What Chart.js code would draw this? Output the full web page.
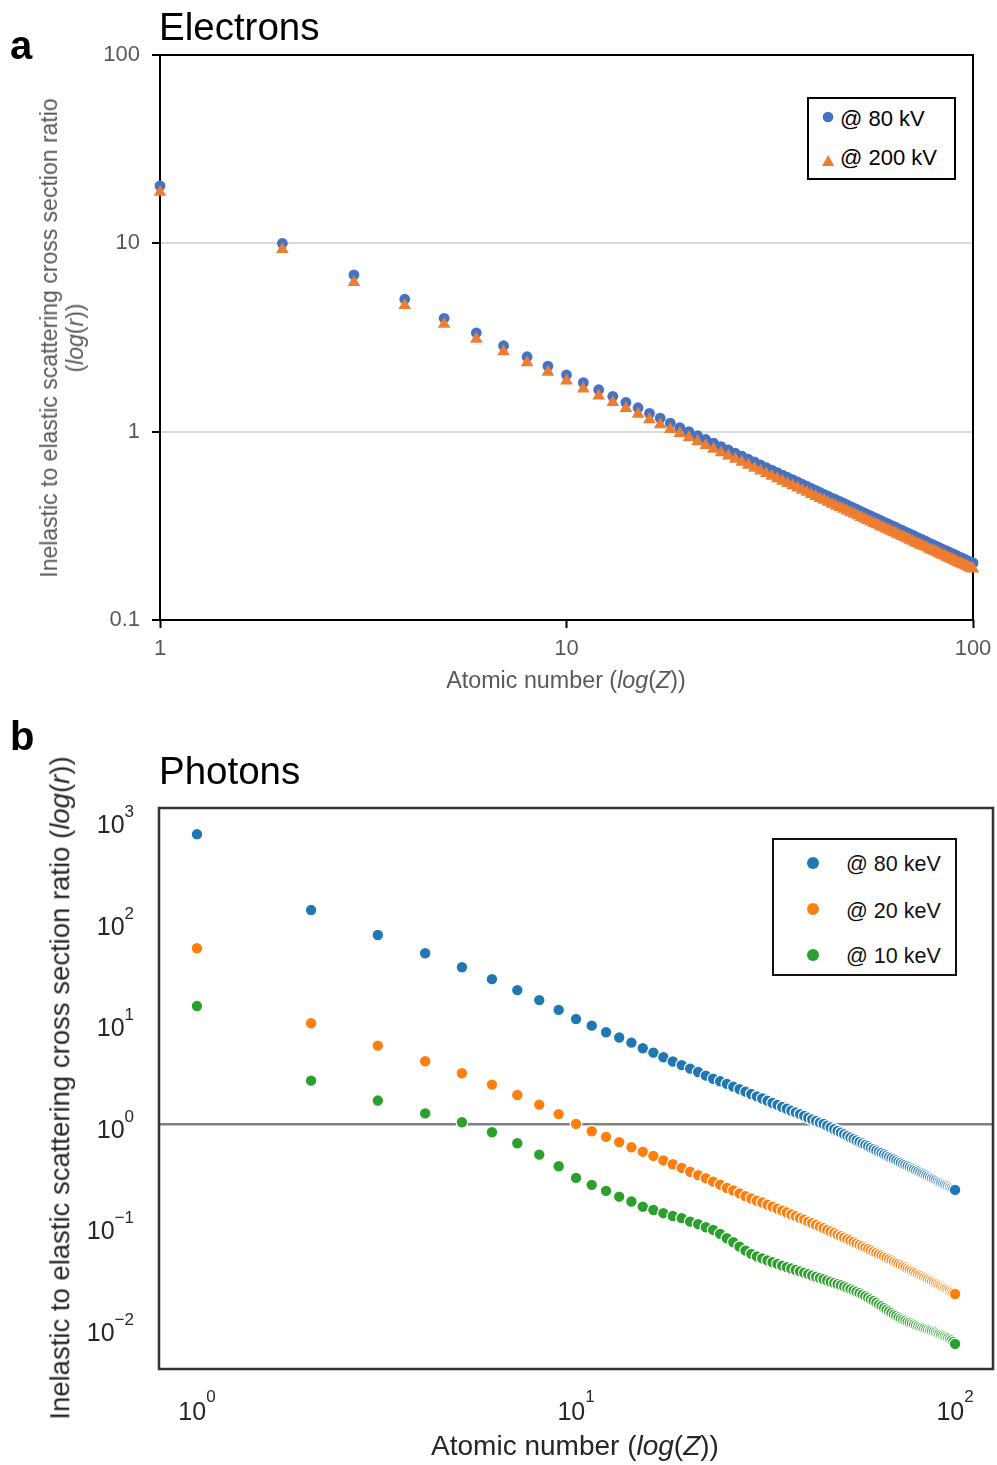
<!DOCTYPE html>
<html>
<head>
<meta charset="utf-8">
<title>Inelastic to elastic scattering cross section ratio</title>
<script src="https://cdn.jsdelivr.net/npm/chart.js@4.4.1/dist/chart.umd.min.js"></script>
<style>
  html, body { margin: 0; background: #fff; }
  #page { position: relative; width: 997px; height: 1465px; overflow: hidden; font-family: 'Liberation Sans', Arial, sans-serif; }
  #page canvas { position: absolute; left: 0; }
  .t { position: absolute; white-space: nowrap; line-height: 1; }
  .rot { transform: translate(-50%, -50%) rotate(-90deg); text-align: center; }
  .box { position: absolute; box-sizing: border-box; background: #fff; }
  svg.mk { position: absolute; overflow: visible; }
</style>
</head>
<body>
<div id="page">
  <canvas id="electrons" width="997" height="700" style="top:0"></canvas>
  <canvas id="photons" width="997" height="765" style="top:700px"></canvas>

  <!-- panel a -->
  <div class="t" style="left:10px;top:25px;font-size:40px;font-weight:bold">a</div>
  <div class="t" style="left:159px;top:8px;font-size:38.5px">Electrons</div>
  <div class="t rot" style="left:62px;top:338px;font-size:23px;line-height:26px;color:#595959">Inelastic to elastic scattering cross section ratio<br>(<i>log</i>(<i>r</i>))</div>
  <div class="t" style="left:566px;top:669px;font-size:23.3px;color:#595959;transform:translateX(-50%)">Atomic number (<i>log</i>(<i>Z</i>))</div>

  <div class="box" style="left:807px;top:97px;width:149px;height:83px;border:2px solid #000"></div>
  <svg class="mk" style="left:823px;top:112px" width="10" height="10"><circle cx="5" cy="5" r="5.3" fill="#4472C4"/></svg>
  <svg class="mk" style="left:822px;top:154.5px" width="12.3" height="11"><polygon points="6.15,0 12.3,11 0,11" fill="#ED7D31"/></svg>
  <div class="t" style="left:840px;top:108px;font-size:22px">@ 80 kV</div>
  <div class="t" style="left:840px;top:146.5px;font-size:22px">@ 200 kV</div>

  <!-- panel b -->
  <div class="t" style="left:10px;top:716px;font-size:40px;font-weight:bold">b</div>
  <div class="t" style="left:159px;top:752px;font-size:38.5px">Photons</div>
  <div class="t rot" style="left:60px;top:1088px;font-size:27.5px;color:#262626">Inelastic to elastic scattering cross section ratio (<i>log</i>(<i>r</i>))</div>
  <div class="t" style="left:575px;top:1432px;font-size:28px;color:#262626;transform:translateX(-50%)">Atomic number (<i>log</i>(<i>Z</i>))</div>

  <div class="box" style="left:772px;top:838px;width:185px;height:138px;border:2.5px solid #111"></div>
  <svg class="mk" style="left:806.7px;top:857.3px" width="12" height="12"><circle cx="6" cy="6" r="6" fill="#1f77b4"/></svg>
  <svg class="mk" style="left:806.7px;top:903.3px" width="12" height="12"><circle cx="6" cy="6" r="6" fill="#ff7f0e"/></svg>
  <svg class="mk" style="left:806.7px;top:949.3px" width="12" height="12"><circle cx="6" cy="6" r="6" fill="#2ca02c"/></svg>
  <div class="t" style="left:846px;top:854px;font-size:21.5px;color:#111">@ 80 keV</div>
  <div class="t" style="left:846px;top:900.5px;font-size:21.5px;color:#111">@ 20 keV</div>
  <div class="t" style="left:846px;top:945.5px;font-size:21.5px;color:#111">@ 10 keV</div>
</div>

<script>
const atomicNumbers = [
  1, 2, 3, 4, 5, 6, 7, 8, 9, 10, 11, 12, 13, 14, 15, 16, 17, 18, 19, 20,
  21, 22, 23, 24, 25, 26, 27, 28, 29, 30, 31, 32, 33, 34, 35, 36, 37, 38, 39, 40,
  41, 42, 43, 44, 45, 46, 47, 48, 49, 50, 51, 52, 53, 54, 55, 56, 57, 58, 59, 60,
  61, 62, 63, 64, 65, 66, 67, 68, 69, 70, 71, 72, 73, 74, 75, 76, 77, 78, 79, 80,
  81, 82, 83, 84, 85, 86, 87, 88, 89, 90, 91, 92, 93, 94, 95, 96, 97, 98, 99, 100,
]

// electrons, ratio r
const electrons80kV = [
  20.2, 10.0, 6.8, 5.05, 4.0, 3.35, 2.86, 2.5, 2.23, 2.0,
  1.82, 1.67, 1.54, 1.43, 1.34, 1.25, 1.18, 1.11, 1.05, 1.0,
  0.952, 0.909, 0.870, 0.833, 0.800, 0.769, 0.741, 0.714, 0.690, 0.667,
  0.645, 0.625, 0.606, 0.588, 0.571, 0.556, 0.541, 0.526, 0.513, 0.500,
  0.488, 0.476, 0.465, 0.455, 0.444, 0.435, 0.426, 0.417, 0.408, 0.400,
  0.392, 0.385, 0.377, 0.370, 0.364, 0.357, 0.351, 0.345, 0.339, 0.333,
  0.328, 0.323, 0.317, 0.313, 0.308, 0.303, 0.299, 0.294, 0.290, 0.286,
  0.282, 0.278, 0.274, 0.270, 0.267, 0.263, 0.260, 0.256, 0.253, 0.250,
  0.247, 0.244, 0.241, 0.238, 0.235, 0.233, 0.230, 0.227, 0.225, 0.222,
  0.220, 0.217, 0.215, 0.213, 0.211, 0.208, 0.206, 0.204, 0.202, 0.201,
]
const electrons200kV = [
  18.7, 9.3, 6.2, 4.68, 3.72, 3.1, 2.66, 2.33, 2.07, 1.86,
  1.69, 1.55, 1.43, 1.33, 1.24, 1.16, 1.09, 1.03, 0.98, 0.93,
  0.886, 0.845, 0.809, 0.775, 0.744, 0.715, 0.689, 0.664, 0.641, 0.620,
  0.600, 0.581, 0.564, 0.547, 0.531, 0.517, 0.503, 0.489, 0.477, 0.465,
  0.454, 0.443, 0.433, 0.423, 0.413, 0.404, 0.396, 0.388, 0.380, 0.372,
  0.365, 0.358, 0.351, 0.344, 0.338, 0.332, 0.326, 0.321, 0.315, 0.310,
  0.305, 0.300, 0.295, 0.291, 0.286, 0.282, 0.278, 0.274, 0.270, 0.266,
  0.262, 0.258, 0.255, 0.251, 0.248, 0.245, 0.242, 0.238, 0.235, 0.233,
  0.230, 0.227, 0.224, 0.221, 0.219, 0.216, 0.214, 0.211, 0.209, 0.207,
  0.204, 0.202, 0.200, 0.198, 0.196, 0.194, 0.192, 0.190, 0.188, 0.187,
]

// photons, ratio r
const photons80keV = [
  715, 128, 72.8, 48.1, 35.0, 26.7, 20.8, 16.6, 13.3, 10.8,
  9.30, 8.00, 7.11, 6.32, 5.57, 5.04, 4.54, 4.12, 3.80, 3.51,
  3.25, 2.99, 2.79, 2.63, 2.48, 2.33, 2.20, 2.08, 1.97, 1.87,
  1.78, 1.69, 1.61, 1.54, 1.47, 1.41, 1.35, 1.30, 1.25, 1.20,
  1.15, 1.11, 1.07, 1.03, 1.00, 0.959, 0.922, 0.887, 0.853, 0.821,
  0.791, 0.763, 0.736, 0.711, 0.687, 0.664, 0.642, 0.622, 0.602, 0.583,
  0.565, 0.548, 0.532, 0.517, 0.502, 0.488, 0.474, 0.461, 0.449, 0.437,
  0.425, 0.415, 0.404, 0.394, 0.384, 0.374, 0.365, 0.357, 0.348, 0.340,
  0.332, 0.325, 0.318, 0.310, 0.304, 0.297, 0.291, 0.285, 0.279, 0.273,
  0.267, 0.262, 0.257, 0.251, 0.246, 0.242, 0.237, 0.233, 0.228, 0.224,
]
const photons20keV = [
  53.8, 9.82, 5.91, 4.15, 3.16, 2.44, 1.93, 1.55, 1.25, 1.00,
  0.847, 0.745, 0.662, 0.590, 0.533, 0.484, 0.437, 0.401, 0.369, 0.338,
  0.313, 0.292, 0.270, 0.252, 0.234, 0.221, 0.207, 0.194, 0.184, 0.175,
  0.168, 0.160, 0.153, 0.146, 0.140, 0.134, 0.128, 0.123, 0.118, 0.114,
  0.109, 0.105, 0.101, 0.0973, 0.0938, 0.0904, 0.0871, 0.0841, 0.0812, 0.0785,
  0.0759, 0.0733, 0.0710, 0.0687, 0.0665, 0.0644, 0.0624, 0.0605, 0.0587, 0.0569,
  0.0552, 0.0536, 0.0521, 0.0506, 0.0492, 0.0479, 0.0465, 0.0452, 0.0440, 0.0428,
  0.0417, 0.0406, 0.0395, 0.0385, 0.0375, 0.0366, 0.0357, 0.0348, 0.0340, 0.0331,
  0.0323, 0.0316, 0.0308, 0.0301, 0.0294, 0.0287, 0.0281, 0.0274, 0.0268, 0.0262,
  0.0256, 0.0251, 0.0245, 0.0240, 0.0235, 0.0230, 0.0225, 0.0220, 0.0216, 0.0211,
]
const photons10keV = [
  14.5, 2.67, 1.70, 1.27, 1.04, 0.828, 0.645, 0.499, 0.383, 0.294,
  0.251, 0.219, 0.192, 0.172, 0.153, 0.142, 0.132, 0.124, 0.118, 0.109,
  0.103, 0.0960, 0.0903, 0.0825, 0.0748, 0.0683, 0.0618, 0.0565, 0.0524, 0.0495,
  0.0473, 0.0452, 0.0434, 0.0418, 0.0402, 0.0388, 0.0376, 0.0364, 0.0353, 0.0342,
  0.0331, 0.0321, 0.0312, 0.0303, 0.0295, 0.0287, 0.0279, 0.0271, 0.0264, 0.0257,
  0.0250, 0.0243, 0.0236, 0.0229, 0.0222, 0.0215, 0.0208, 0.0201, 0.0194, 0.0187,
  0.0180, 0.0173, 0.0166, 0.0160, 0.0154, 0.0148, 0.0142, 0.0137, 0.0132, 0.0128,
  0.0124, 0.0121, 0.0118, 0.0115, 0.0112, 0.0110, 0.0108, 0.0106, 0.0104, 0.0102,
  0.0100, 0.00985, 0.00970, 0.00955, 0.00940, 0.00926, 0.00911, 0.00896, 0.00881, 0.00865,
  0.00849, 0.00834, 0.00819, 0.00804, 0.00789, 0.00773, 0.00755, 0.00735, 0.00711, 0.00680,
]

const electronTicksX = [1, 10, 100]
const electronTicksY = [0.1, 1, 10, 100]
const photonTicksX = [1, 10, 100]
const photonTicksY = [0.01, 0.1, 1, 10, 100, 1000]

const FONT = "'Liberation Sans', Arial, sans-serif"
Chart.defaults.font.family = FONT
Chart.defaults.animation = false

const toPoints = (values) => atomicNumbers.map((z, i) => ({ x: z, y: values[i] }))
const setTicks = (values) => (scale) => {
  scale.ticks = values.map((value) => ({ value }))
}

// plot-area border, drawn with the chart area the scales produced
const frame = (id, color, width, hook) => ({
  id,
  [hook](chart) {
    const { ctx, chartArea: a } = chart
    ctx.save()
    ctx.strokeStyle = color
    ctx.lineWidth = width
    ctx.strokeRect(a.left, a.top, a.right - a.left, a.bottom - a.top)
    ctx.restore()
  },
})

// 10^n tick labels with a raised exponent
const expText = (v) => {
  const n = Math.round(Math.log10(v))
  return n < 0 ? '\u2212' + -n : String(n)
}
const powerTicks = {
  id: 'powerTicks',
  afterDraw(chart) {
    const { ctx, chartArea: a, scales } = chart
    const base = '25px ' + FONT
    const sup = '17px ' + FONT
    ctx.save()
    ctx.fillStyle = '#262626'
    ctx.textBaseline = 'alphabetic'
    ctx.textAlign = 'left'
    scales.y.ticks.forEach((t) => {
      const py = scales.y.getPixelForValue(t.value)
      const e = expText(t.value)
      ctx.font = sup
      const ew = ctx.measureText(e).width
      const right = a.left - 25
      ctx.fillText(e, right - ew, py - 2)
      ctx.font = base
      const bw = ctx.measureText('10').width
      ctx.fillText('10', right - ew - bw, py + 14)
    })
    scales.x.ticks.forEach((t) => {
      const px = scales.x.getPixelForValue(t.value)
      const e = expText(t.value)
      ctx.font = sup
      const ew = ctx.measureText(e).width
      ctx.font = base
      const bw = ctx.measureText('10').width
      const left = px - (bw + ew) / 2
      ctx.fillText('10', left, a.bottom + 51)
      ctx.font = sup
      ctx.fillText(e, left + bw, a.bottom + 33)
    })
    ctx.restore()
  },
}

new Chart(document.getElementById('electrons'), {
  type: 'scatter',
  data: {
    datasets: [
      {
        label: '@ 80 kV',
        data: toPoints(electrons80kV),
        clip: false,
        pointStyle: 'circle',
        pointRadius: 5.4,
        pointBackgroundColor: '#4472C4',
        pointBorderWidth: 0,
        order: 1,
      },
      {
        label: '@ 200 kV',
        data: toPoints(electrons200kV),
        clip: false,
        pointStyle: 'triangle',
        pointRadius: 7.3,
        pointBackgroundColor: '#ED7D31',
        pointBorderWidth: 0,
        order: 0,
      },
    ],
  },
  options: {
    responsive: false,
    events: [],
    layout: { autoPadding: false, padding: { left: 0, right: 24, top: 55, bottom: 40 } },
    scales: {
      x: {
        type: 'logarithmic',
        min: 1,
        max: 100,
        afterBuildTicks: setTicks(electronTicksX),
        afterFit: (s) => {
          s.height = 40
          s.paddingLeft = 0
          s.paddingRight = 0
        },
        border: { display: false },
        grid: { drawOnChartArea: false, tickLength: 8, tickColor: '#000', tickWidth: 2 },
        ticks: { color: '#595959', font: { size: 22 }, padding: 8, maxRotation: 0, callback: (v) => String(v) },
      },
      y: {
        type: 'logarithmic',
        min: 0.1,
        max: 100,
        afterBuildTicks: setTicks(electronTicksY),
        afterFit: (s) => { s.width = 160 },
        border: { display: false },
        grid: {
          color: (c) => (c.tick && (c.tick.value === 1 || c.tick.value === 10) ? '#d9d9d9' : 'rgba(0,0,0,0)'),
          lineWidth: 2,
          tickLength: 8,
          tickColor: '#000',
          tickWidth: 2,
        },
        ticks: { color: '#595959', font: { size: 22 }, padding: 12, callback: (v) => String(v) },
      },
    },
    plugins: { legend: { display: false }, tooltip: { enabled: false } },
  },
  plugins: [frame('frameA', '#000', 2, 'beforeDatasetsDraw')],
})

const photonSet = (label, values, color) => ({
  label,
  data: toPoints(values),
  clip: false,
  pointStyle: 'circle',
  pointRadius: 5.8,
  pointBackgroundColor: color,
  pointBorderColor: '#fff',
  pointBorderWidth: 1.2,
})

new Chart(document.getElementById('photons'), {
  type: 'scatter',
  data: {
    datasets: [
      photonSet('@ 80 keV', photons80keV, '#1f77b4'),
      photonSet('@ 20 keV', photons20keV, '#ff7f0e'),
      photonSet('@ 10 keV', photons10keV, '#2ca02c'),
    ],
  },
  options: {
    responsive: false,
    events: [],
    layout: { autoPadding: false, padding: { left: 0, right: 4, top: 108, bottom: 46 } },
    scales: {
      x: {
        type: 'logarithmic',
        min: 0.794,
        max: 125.9,
        afterBuildTicks: setTicks(photonTicksX),
        afterFit: (s) => { s.height = 50 },
        border: { display: false },
        grid: { display: false },
        ticks: { display: false },
      },
      y: {
        type: 'logarithmic',
        min: 0.00385,
        max: 1297,
        afterBuildTicks: setTicks(photonTicksY),
        afterFit: (s) => { s.width = 159 },
        border: { display: false },
        grid: {
          color: (c) => (c.tick && c.tick.value === 1 ? '#808080' : 'rgba(0,0,0,0)'),
          lineWidth: 2.5,
          drawTicks: false,
        },
        ticks: { display: false },
      },
    },
    plugins: { legend: { display: false }, tooltip: { enabled: false } },
  },
  plugins: [frame('frameB', '#333', 2.5, 'afterDatasetsDraw'), powerTicks],
})
</script>
</body>
</html>
